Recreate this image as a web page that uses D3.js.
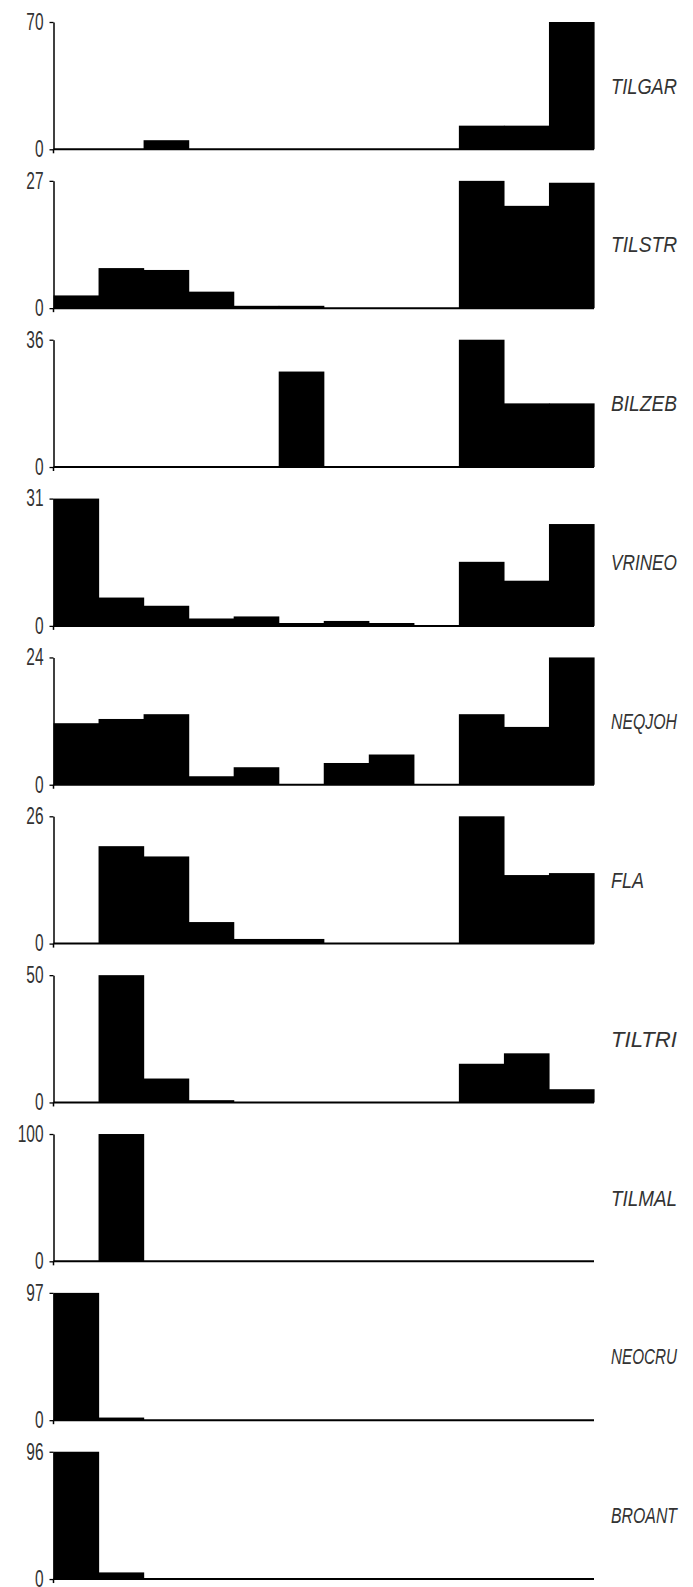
<!DOCTYPE html>
<html>
<head>
<meta charset="utf-8">
<script src="https://cdn.jsdelivr.net/npm/d3@7"></script>
<style>
  html, body { margin: 0; padding: 0; background: #fff; }
  svg { display: block; }
</style>
</head>
<body>
<svg id="chart" width="693" height="1587"></svg>
<script>
// ---- data ----
const species = ["TILGAR", "TILSTR", "BILZEB", "VRINEO", "NEQJOH", "FLA", "TILTRI", "TILMAL", "NEOCRU", "BROANT"];
const axisMax = [70, 27, 36, 31, 24, 26, 50, 100, 97, 96];
const bins = [1, 2, 3, 4, 5, 6, 7, 8, 9, 10, 11, 12];

const tilgar = [0, 0, 5, 0, 0, 0, 0, 0, 0, 13, 13, 70];
const tilstr = [2.7, 8.5, 8.1, 3.5, 0.5, 0.5, 0, 0, 0, 27, 21.7, 26.6];
const bilzeb = [0, 0, 0, 0, 0, 27, 0, 0, 0, 36, 18, 18];
const vrineo = [31, 6.9, 4.9, 1.8, 2.3, 0.7, 1.2, 0.7, 0.2, 15.6, 11, 24.8];
const neqjoh = [11.6, 12.4, 13.3, 1.6, 3.3, 0, 4.1, 5.7, 0, 13.3, 10.9, 24];
const fla    = [0, 19.9, 17.8, 4.4, 0.95, 0.95, 0, 0, 0, 26, 14, 14.4];
const tiltri = [0, 50, 9.4, 0.9, 0, 0, 0, 0, 0, 15.2, 19.3, 5.2];
const tilmal = [0, 100, 0, 0, 0, 0, 0, 0, 0, 0, 0, 0];
const neocru = [97, 2, 0, 0, 0, 0, 0, 0, 0, 0, 0, 0];
const broant = [96, 5, 0, 0, 0, 0, 0, 0, 0, 0, 0, 0];

const series = [tilgar, tilstr, bilzeb, vrineo, neqjoh, fla, tiltri, tilmal, neocru, broant];

// ---- layout ----
const svg = d3.select("#chart");
const left = 53.5, right = 594;
const firstTop = 22, panelH = 127.3, step = 158.86;
const fontFam = "'Liberation Sans', Arial, sans-serif";

const x = d3.scaleLinear().domain([0, bins.length]).range([left, right]);

species.forEach((name, i) => {
  const top = firstTop + i * step;
  const base = top + panelH;
  const y = d3.scaleLinear().domain([0, axisMax[i]]).range([base, top]);
  const g = svg.append("g");

  // bars
  g.selectAll("rect")
    .data(series[i])
    .join("rect")
    .attr("x", (d, j) => x(j))
    .attr("width", (d, j) => x(j + 1) - x(j) + 0.6)
    .attr("y", d => y(d))
    .attr("height", d => y(0) - y(d))
    .attr("fill", "#000");

  // baseline
  g.append("line")
    .attr("x1", left).attr("x2", right)
    .attr("y1", y(0)).attr("y2", y(0))
    .attr("stroke", "#000").attr("stroke-width", 2);

  // y axis
  const ax = g.append("g")
    .attr("transform", `translate(${left},0)`)
    .call(d3.axisLeft(y).tickValues([0, axisMax[i]]).tickSize(4).tickSizeOuter(0).tickPadding(6));
  ax.select(".domain").attr("stroke", "#000").attr("stroke-width", 1.5);
  ax.selectAll(".tick line").attr("stroke", "#000").attr("stroke-width", 1.3);
  ax.selectAll(".tick text")
    .attr("font-family", fontFam)
    .attr("font-size", 23)
    .attr("fill", "#333")
    .attr("textLength", d => String(d).length * 8.6)
    .attr("lengthAdjust", "spacingAndGlyphs");
  // axis extends slightly below zero
  g.append("line")
    .attr("x1", left).attr("x2", left)
    .attr("y1", y(0)).attr("y2", y(0) + 4)
    .attr("stroke", "#000").attr("stroke-width", 1.5);

  // species label
  g.append("text")
    .attr("x", 611)
    .attr("y", (top + base) / 2)
    .attr("dy", "0.36em")
    .attr("font-family", fontFam)
    .attr("font-style", "italic")
    .attr("font-size", 22)
    .attr("fill", "#333")
    .attr("textLength", name.length * 11.0)
    .attr("lengthAdjust", "spacingAndGlyphs")
    .text(name);
});
</script>
</body>
</html>
